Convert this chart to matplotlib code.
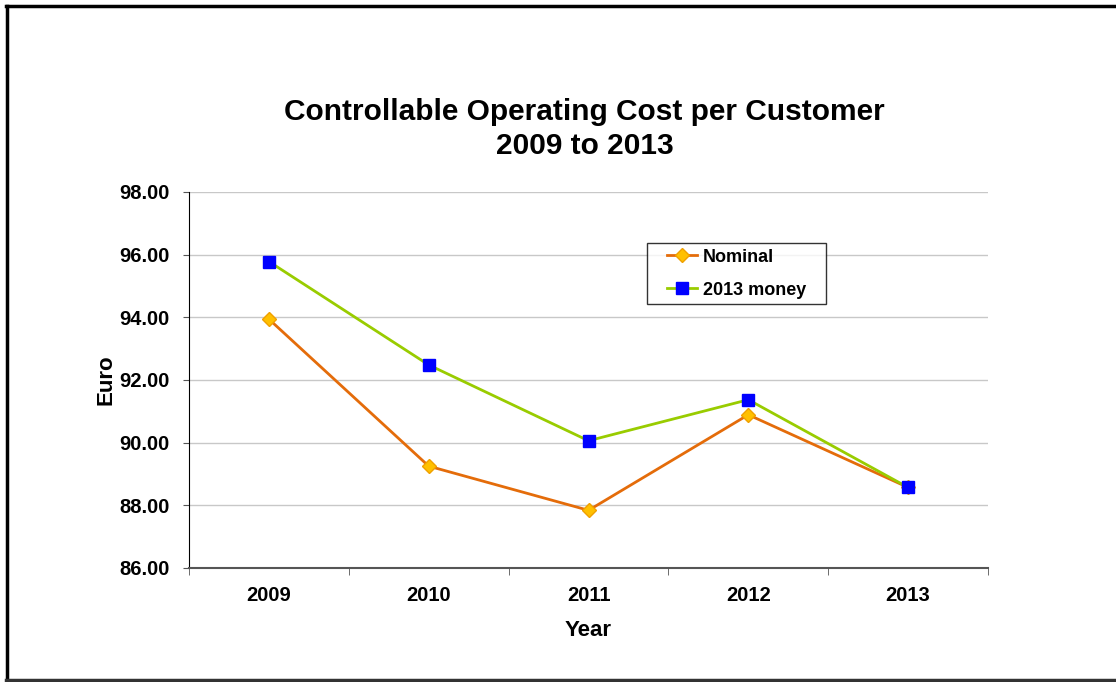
import matplotlib.pyplot as plt
from matplotlib.lines import Line2D
from matplotlib.path import Path

# --- Data ---
years = ["2009", "2010", "2011", "2012", "2013"]
nominal = [93.94, 89.25, 87.84, 90.89, 88.57]
money_2013 = [95.78, 92.48, 90.06, 91.37, 88.57]
y_ticks = [86.0, 88.0, 90.0, 92.0, 94.0, 96.0, 98.0]

plt.rcParams['font.family'] = ['Liberation Sans', 'DejaVu Sans']


# legend frame that is wider on the left/right than on top/bottom
class WideBox:
    def __init__(self, xpad):
        self.xpad = xpad

    def __call__(self, x0, y0, width, height, mutation_size):
        p = self.xpad * mutation_size
        verts = [(x0 - p, y0), (x0 + width + p, y0), (x0 + width + p, y0 + height),
                 (x0 - p, y0 + height), (x0 - p, y0)]
        return Path(verts, closed=True)


fig = plt.figure(figsize=(11.16, 6.82), dpi=100)
ax = fig.add_axes([0.1694, 0.1672, 0.7159, 0.5513])

x = range(len(years))
ax.plot(x, nominal, color='#E46C0A', linewidth=2, marker='D', markersize=7,
        markerfacecolor='#FFC000', markeredgecolor='#F0A000', label='Nominal', zorder=3)
ax.plot(x, money_2013, color='#99CC00', linewidth=2, marker='s', markersize=9,
        markerfacecolor='#0000FF', markeredgecolor='#0000FF', label='2013 money', zorder=3)

ax.set_xlim(-0.5, len(years) - 0.5)
ax.set_ylim(86, 98)
ax.set_yticks(y_ticks)
ax.set_yticklabels([f"{v:.2f}" for v in y_ticks], fontsize=14.5, fontweight='bold')
ax.set_xticks(list(x))
ax.set_xticklabels(years, fontsize=14.5, fontweight='bold')
ax.tick_params(axis='x', length=0, pad=13)
# ticks between categories
ax.set_xticks([i - 0.5 for i in range(len(years) + 1)], minor=True)
ax.tick_params(axis='x', which='minor', length=5, direction='out', color='#555555')
ax.tick_params(axis='y', length=4, direction='out', pad=10, color='#555555')

ax.grid(axis='y', color='#C8C8C8', linewidth=1)
ax.set_axisbelow(True)
for side in ['top', 'right']:
    ax.spines[side].set_visible(False)
ax.spines['left'].set_color('black')
ax.spines['bottom'].set_color('#555555')
ax.spines['bottom'].set_linewidth(1.5)

ax.set_xlabel("Year", fontsize=16, fontweight='bold', labelpad=11)
ax.set_ylabel("Euro", fontsize=16, fontweight='bold', labelpad=2)

leg = ax.legend(loc='upper left', bbox_to_anchor=(0.591, 0.864),
                prop={'weight': 'bold', 'size': 13}, frameon=True, fancybox=False,
                borderpad=0.3, labelspacing=0.9, handlelength=1.7,
                handletextpad=0.3, borderaxespad=0)
frame = leg.get_frame()
frame.set_boxstyle(WideBox(0.8))
frame.set_edgecolor('black')
frame.set_linewidth(1)

fig.text(0.524, 0.811, "Controllable Operating Cost per Customer\n2009 to 2013",
         ha='center', va='center', fontsize=21.5, fontweight='bold', linespacing=1.3)

# outer border (left, top, bottom)
fig.add_artist(Line2D([0.0063, 0.0063], [0.003, 0.991], transform=fig.transFigure,
                      color='black', linewidth=2.5))
fig.add_artist(Line2D([0.005, 1.0], [0.991, 0.991], transform=fig.transFigure,
                      color='black', linewidth=2.5))
fig.add_artist(Line2D([0.005, 1.0], [0.003, 0.003], transform=fig.transFigure,
                      color='#333333', linewidth=2.5))

fig.savefig("out.png", dpi=100)
